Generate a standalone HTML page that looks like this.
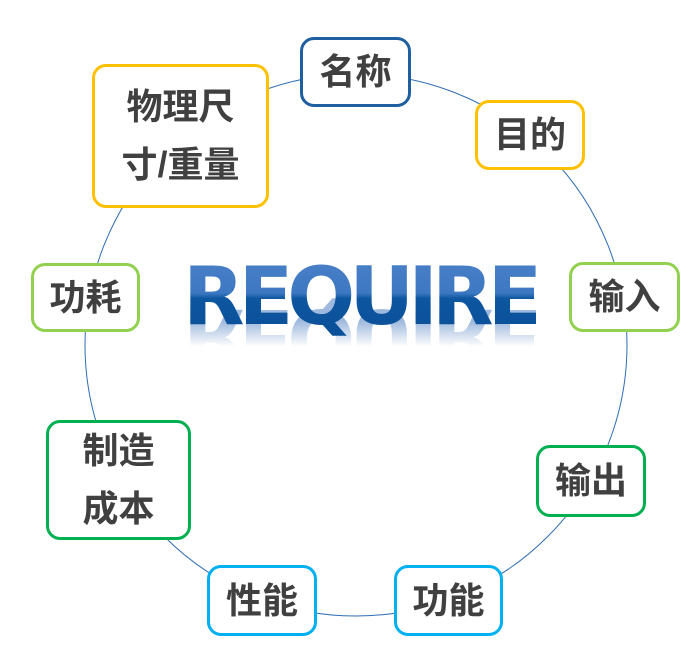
<!DOCTYPE html>
<html><head><meta charset="utf-8"><style>
body{margin:0;width:691px;height:648px;background:#fff;position:relative;overflow:hidden;font-family:"Liberation Sans","Noto Sans CJK SC",sans-serif}
.b{position:absolute;box-sizing:border-box;border:3px solid;border-radius:14px;background:#fff;display:flex;align-items:center;justify-content:center;text-align:center;font-weight:bold;font-size:36px;color:#404040;line-height:58px}
.t,.r{position:absolute;left:183px;font-family:"DejaVu Sans",sans-serif;font-weight:bold;font-size:80px;line-height:80px;letter-spacing:-6px;white-space:nowrap}
.t{top:257px;background:linear-gradient(#4a80c8 0%,#3d78c2 45%,#0d56a0 52%,#0a4f98 100%);-webkit-background-clip:text;background-clip:text;-webkit-text-fill-color:transparent}
.r{top:283px;transform:scaleY(-1);transform-origin:0 47px;background:linear-gradient(to top,rgba(40,100,180,0.45) 30%,rgba(40,100,180,0) 62%);-webkit-background-clip:text;background-clip:text;-webkit-text-fill-color:transparent}
</style></head><body>
<svg width="691" height="648" style="position:absolute;left:0;top:0"><circle cx="356" cy="345" r="271" fill="none" stroke="#2e6db4" stroke-width="1"/></svg>
<div class="r">REQUIRE</div>
<div class="t">REQUIRE</div>
<div class="b" style="left:300px;top:37px;width:111px;height:70px;border-color:#1f5fa0">名称</div>
<div class="b" style="left:475px;top:100px;width:110px;height:70px;border-color:#ffc000">目的</div>
<div class="b" style="left:92px;top:64px;width:177px;height:144px;border-color:#ffc000">物理尺<br>寸/重量</div>
<div class="b" style="left:31px;top:263px;width:109px;height:69px;border-color:#92d050">功耗</div>
<div class="b" style="left:569px;top:262px;width:111px;height:70px;border-color:#92d050">输入</div>
<div class="b" style="left:46px;top:420px;width:145px;height:120px;border-color:#00b050">制造<br>成本</div>
<div class="b" style="left:536px;top:445px;width:110px;height:72px;border-color:#00b050">输出</div>
<div class="b" style="left:207px;top:565px;width:110px;height:71px;border-color:#00b0f0">性能</div>
<div class="b" style="left:394px;top:565px;width:109px;height:71px;border-color:#00b0f0">功能</div>
</body></html>
